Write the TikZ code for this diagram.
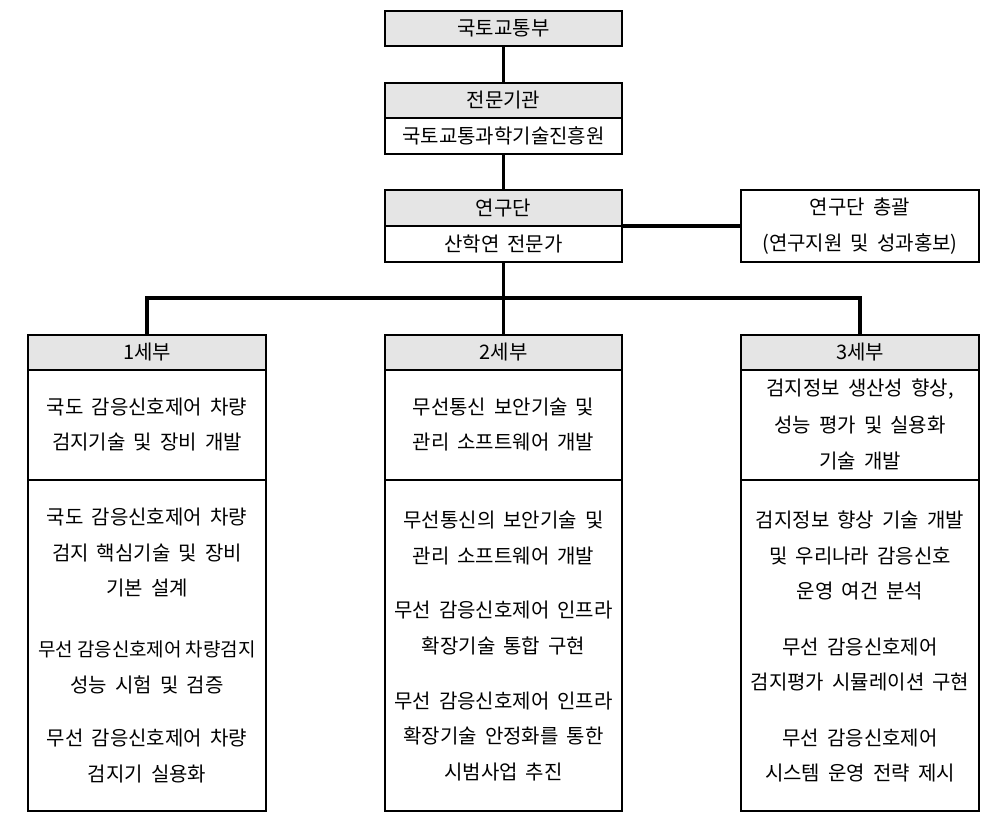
\documentclass[tikz,border=0pt]{standalone}
\usepackage{fontspec}
\setmainfont{Noto Sans CJK KR}[WordSpace=1.8]
\begin{document}
\begin{tikzpicture}[x=1pt,y=-1pt,
  txt/.style={font=\fontsize{20}{35.5}\selectfont, align=center},
  box/.style={txt, draw, line width=1.2pt, inner sep=0pt},
  head/.style={box, fill=black!10, minimum height=35pt},
  plain/.style={box, fill=white},
  para/.style={txt, inner sep=0pt},
  link/.style={line width=3.6pt}]
\useasboundingbox (0,0) rectangle (996,824);

% top chain
\node[head, minimum width=237pt] (mot) at (503.5,28.5) {국토교통부};
\node[head, minimum width=237pt] (agH) at (503.5,100.5) {전문기관};
\node[plain, minimum width=237pt, minimum height=36pt] (agB) at (503.5,136) {국토교통과학기술진흥원};
\node[head, minimum width=237pt, minimum height=36pt] (teamH) at (503.5,208) {연구단};
\node[plain, minimum width=237pt, minimum height=36pt] (teamB) at (503.5,244) {산학연 전문가};
\node[plain, minimum width=238pt, minimum height=72pt, font=\fontsize{20}{36}\selectfont] (hq) at (860,226) {연구단 총괄\\(연구지원 및 성과홍보)};

% sub projects: headers and sections
\node[head, minimum width=238pt] (h1) at (147,352.5) {1세부};
\node[plain, minimum width=238pt, minimum height=110pt] (a1) at (147,425) {};
\node[plain, minimum width=238pt, minimum height=331pt] (b1) at (147,645.5) {};

\node[head, minimum width=237pt] (h2) at (503.5,352.5) {2세부};
\node[plain, minimum width=237pt, minimum height=110pt] (a2) at (503.5,425) {};
\node[plain, minimum width=237pt, minimum height=331pt] (b2) at (503.5,645.5) {};

\node[head, minimum width=238pt] (h3) at (860,352.5) {3세부};
\node[plain, minimum width=238pt, minimum height=110pt] (a3) at (860,425) {};
\node[plain, minimum width=238pt, minimum height=331pt] (b3) at (860,645.5) {};

% texts
\node[para] (t1a) at (147,424.5) {국도 감응신호제어 차량\\검지기술 및 장비 개발};
\node[para] (t1b) at (147,553) {국도 감응신호제어 차량\\검지 핵심기술 및 장비\\기본 설계};
\node[para] (t1c) at (147,667.5) {{\fontsize{19}{35.5}\selectfont\spaceskip=4pt\relax 무선 감응신호제어 차량검지}\\성능 시험 및 검증};
\node[para] (t1d) at (147,756) {무선 감응신호제어 차량\\검지기 실용화};

\node[para] (t2a) at (503.5,424.5) {무선통신 보안기술 및\\관리 소프트웨어 개발};
\node[para] (t2b) at (503.5,538) {무선통신의 보안기술 및\\관리 소프트웨어 개발};
\node[para] (t2c) at (503.5,628) {무선 감응신호제어 인프라\\확장기술 통합 구현};
\node[para] (t2d) at (503.5,736.5) {무선 감응신호제어 인프라\\확장기술 안정화를 통한\\시범사업 추진};

\node[para, font=\fontsize{20}{36.5}\selectfont] (t3a) at (860,424.5) {검지정보 생산성 향상,\\성능 평가 및 실용화\\기술 개발};
\node[para] (t3b) at (860,555.5) {검지정보 향상 기술 개발\\및 우리나라 감응신호\\운영 여건 분석};
\node[para] (t3c) at (860,664.5) {무선 감응신호제어\\검지평가 시뮬레이션 구현};
\node[para] (t3d) at (860,755.5) {무선 감응신호제어\\시스템 운영 전략 제시};

% connectors
\coordinate (bus) at (503.5,298);
\draw[link] (mot.south) -- (agH.north);
\draw[link] (agB.south) -- (teamH.north);
\draw[link] (hq.west -| teamB.east) -- (hq.west);
\draw[link] (teamB.south) -- (h2.north);
\draw[link] (h1.north) |- (bus) -| (h3.north);
\end{tikzpicture}
\end{document}
